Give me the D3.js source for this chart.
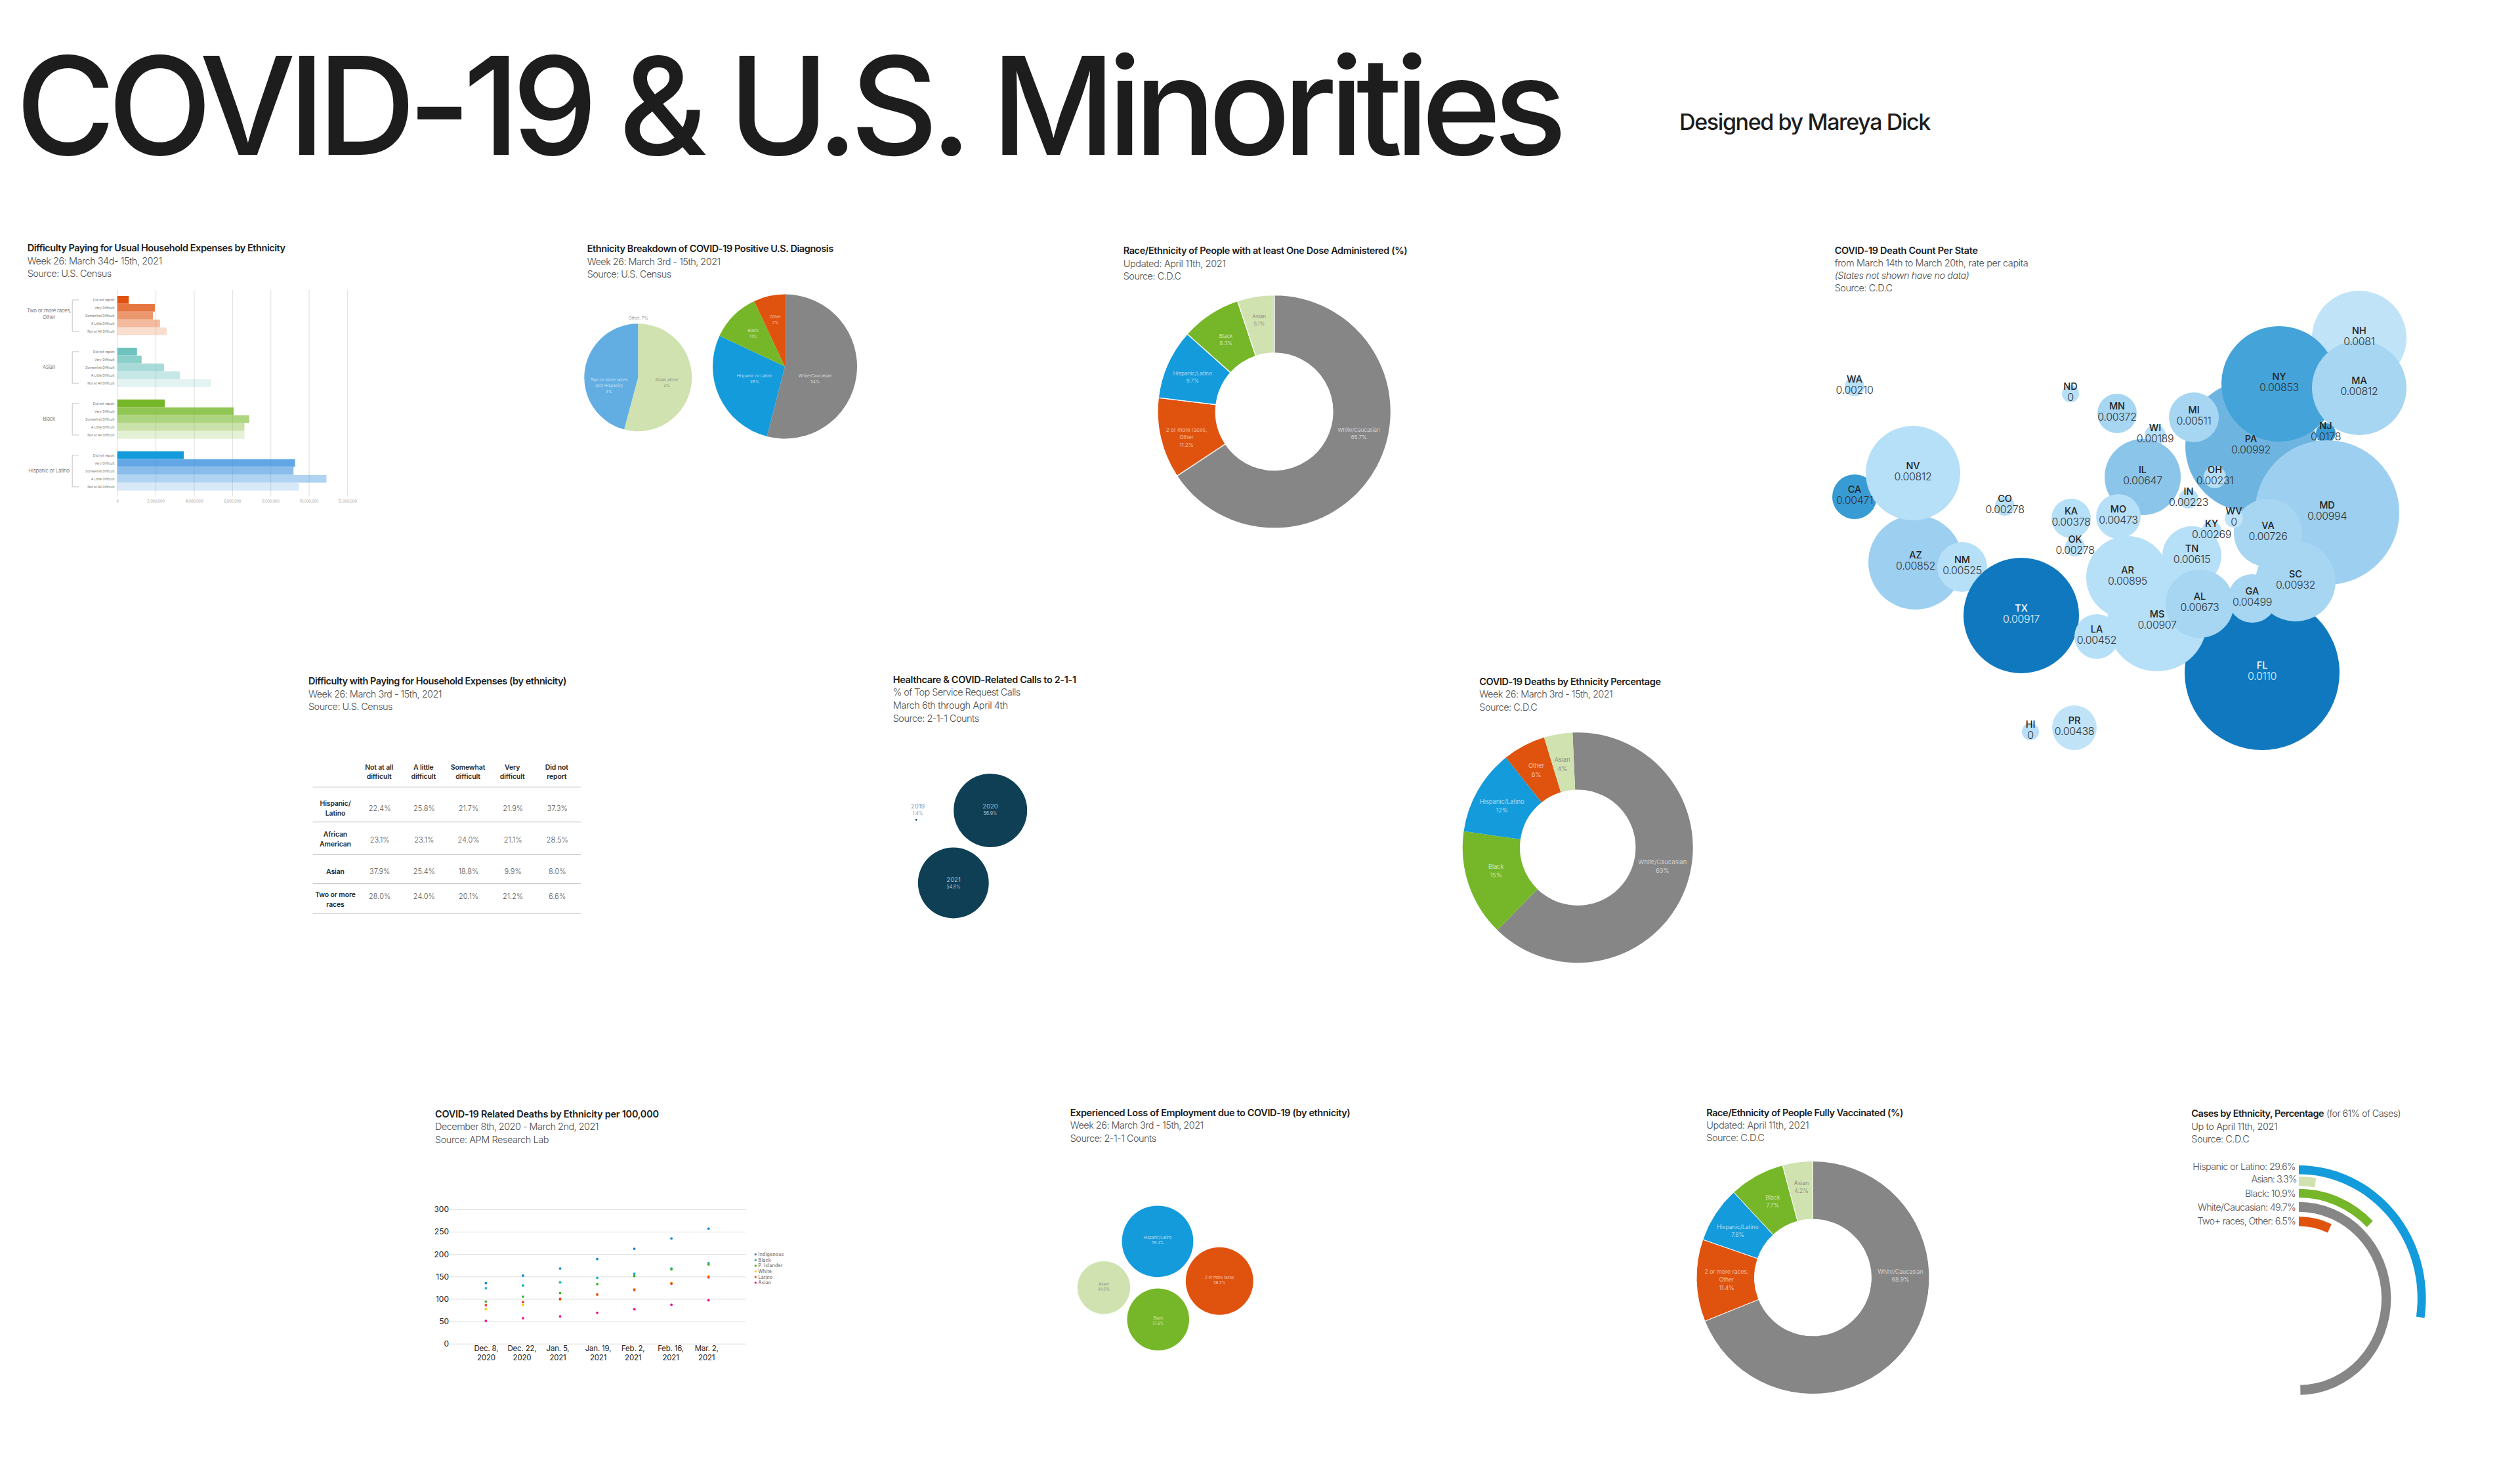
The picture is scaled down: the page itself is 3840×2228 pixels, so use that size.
<!DOCTYPE html>
<html>
<head>
<meta charset="utf-8">
<title>COVID-19 & U.S. Minorities</title>
<script src="https://cdn.jsdelivr.net/npm/d3@7"></script>
<style>
  html, body { margin: 0; padding: 0; background: #fff; }
  svg { display: block; }
  text { font-family: Inter, "Liberation Sans", sans-serif; }
</style>
</head>
<body>
<div id="wrapper"></div>
<script>
// ---- data ----

// household expenses, bars
const expenseGroups = ["Two or more races, Other", "Asian", "Black", "Hispanic or Latino"]
const expenseLevels = ["Did not report", "Very Difficult", "Somewhat Difficult", "A Little Difficult", "Not at All Difficult"]
const expenseTwoOrMore = [600000, 1960000, 1860000, 2230000, 2580000]
const expenseAsian = [1030000, 1270000, 2440000, 3270000, 4890000]
const expenseBlack = [2480000, 6070000, 6890000, 6640000, 6640000]
const expenseHispanic = [3470000, 9280000, 9200000, 10920000, 9490000]
const expenseTicks = [0, 2000000, 4000000, 6000000, 8000000, 10000000, 12000000]

// positive diagnosis pies
const diagnosisSmallLabels = [["Asian alone", "4%"], ["Two or more races", "(not Hispanic)", "3%"]]
const diagnosisSmallValues = [3.9, 3.3]
const diagnosisBigLabels = [["White/Caucasian", "54%"], ["Hispanic or Latino", "28%"], ["Black", "11%"], ["Other", "7%"]]
const diagnosisBigValues = [54, 28, 11, 7]

// donuts
const oneDoseLabels = [["White/Caucasian", "65.7%"], ["2 or more races,", "Other", "11.2%"], ["Hispanic/Latino", "9.7%"], ["Black", "8.3%"], ["Asian", "5.1%"]]
const oneDoseValues = [65.7, 11.2, 9.7, 8.3, 5.1]
const deathShareLabels = [["White/Caucasian", "63%"], ["Black", "15%"], ["Hispanic/Latino", "12%"], ["Other", "6%"], ["Asian", "4%"]]
const deathShareValues = [63, 15, 12, 6, 4]
const fullVaxLabels = [["White/Caucasian", "68.9%"], ["2 or more races,", "Other", "11.4%"], ["Hispanic/Latino", "7.8%"], ["Black", "7.7%"], ["Asian", "4.2%"]]
const fullVaxValues = [68.9, 11.4, 7.8, 7.7, 4.2]

// state bubbles, map units are a 1000 x 840 sheet. array order is draw order
const stateNames = ["NH","PA","NY","MA","MI","MN","WI","ND","WA","IL","IN","OH","NJ","MD","VA","WV","TN","KY","MO","KA","OK","CO","CA","AZ","NV","NM","TX","FL","AR","MS","LA","GA","AL","SC","HI","PR"]
const stateRates = ["0.0081","0.00992","0.00853","0.00812","0.00511","0.00372","0.00189","0","0.00210","0.00647","0.00223","0.00231","0.0178","0.00994","0.00726","0","0.00615","0.00269","0.00473","0.00378","0.00278","0.00278","0.00471","0.00852","0.00812","0.00525","0.00917","0.0110","0.00895","0.00907","0.00452","0.00499","0.00673","0.00932","0","0.00438"]
const stateX = [835,670,713,835,583,466,524,395,66,505,575,615,784,786,696,644,580,610,468,396,402,295,66,159,155,230,320,687,482,527,435,672,592,738,334,401]
const stateY = [175,340,245,251,296,290,323,260,249,387,420,387,320,441,472,450,507,469,447,450,493,431,417,517,381,524,598,685,540,607,630,572,580,546,775,769]
const stateSize = [72,100,88,72,38,30,16,13,15,58,15,17,15,110,52,14,45,15,34,30,15,15,34,72,72,38,88,118,63,76,34,37,52,61,13,34]
const stateShade = [0,5,6,2,2,2,1,1,1,4,1,1,7,3,2,0,1,1,1,1,1,1,7,3,1,1,8,8,1,1,1,2,2,2,1,0]

// expenses table
const tableColumns = [["Not at all", "difficult"], ["A little", "difficult"], ["Somewhat", "difficult"], ["Very", "difficult"], ["Did not", "report"]]
const tableRows = [["Hispanic/", "Latino"], ["African", "American"], ["Asian"], ["Two or more", "races"]]
const tableHispanic = ["22.4%", "25.8%", "21.7%", "21.9%", "37.3%"]
const tableAfrican = ["23.1%", "23.1%", "24.0%", "21.1%", "28.5%"]
const tableAsian = ["37.9%", "25.4%", "18.8%", "9.9%", "8.0%"]
const tableTwoOrMore = ["28.0%", "24.0%", "20.1%", "21.2%", "6.6%"]

// 2-1-1 calls
const callYears = ["2019", "2020", "2021"]
const callShares = [1.4, 56.9, 54.8]

// deaths per 100,000
const deathDates = ["Dec. 8,|2020", "Dec. 22,|2020", "Jan. 5,|2021", "Jan. 19,|2021", "Feb. 2,|2021", "Feb. 16,|2021", "Mar. 2,|2021"]
const deathSeriesNames = ["Indigenous", "Black", "P. Islander", "White", "Latino", "Asian"]
const deathIndigenous = [135, 152, 168, 189, 212, 235, 257]
const deathBlack = [124, 130, 137, 147, 156, 168, 180]
const deathIslander = [94, 105, 113, 133, 151, 166, 177]
const deathWhite = [77, 87, 98, 109, 122, 136, 151]
const deathLatino = [86, 93, 100, 110, 120, 134, 148]
const deathAsian = [51, 57, 61, 69, 77, 87, 97]
const deathTicks = [0, 50, 100, 150, 200, 250, 300]

// loss of employment
const jobGroups = ["Hispanic/Latino", "2 or more races", "Asian", "Black"]
const jobShares = [59.4, 56.2, 44.0, 51.6]

// cases by ethnicity, radial bars
const caseLabels = ["Hispanic or Latino:  29.6%", "Asian: 3.3%", "Black: 10.9%", "White/Caucasian: 49.7%", "Two+ races,  Other: 6.5%"]
const caseShares = [29.6, 3.3, 10.9, 49.7, 6.5]
const caseSweep = [98.4, 8.5, 45, 179, 24.7]

// ---- setup ----
const dms = { width: 3840, height: 2228 }

const grey = "#868686"
const orange = "#e0530f"
const blue = "#149bdb"
const green = "#76b729"
const pale = "#d0e2b0"
const teal = "#6ec3be"
const ink = "#1d1d1d"
const soft = "#4d4d4d"

const wrapper = d3.select("#wrapper")
  .append("svg")
  .attr("width", dms.width)
  .attr("height", dms.height)
  .attr("viewBox", `0 0 ${dms.width} ${dms.height}`)

// write a text, optionally squeeze it to a measured width
function put(parent, str, x, y, o = {}) {
  const t = parent.append("text")
    .attr("x", x)
    .attr("y", y)
    .attr("font-size", o.size || 8)
    .attr("font-weight", o.weight || 300)
    .attr("fill", o.fill || soft)
    .attr("text-anchor", o.anchor || "start")
    .text(str)
  if (o.italic) t.attr("font-style", "italic")
  if (o.width) {
    const len = t.node().getComputedTextLength()
    t.attr("letter-spacing", (o.width - len) / str.length)
  } else if (o.spacing) {
    t.attr("letter-spacing", o.spacing)
  }
  return t
}

// title + sub lines of a panel
function header(x, y, step, title, titleWidth, subs) {
  put(wrapper, title, x, y, { size: 14.5, weight: 600, fill: ink, width: titleWidth })
  subs.forEach((s, i) => {
    put(wrapper, s.text, x, y + step * (i + 1), { size: 14.5, weight: 300, fill: soft, width: s.width, italic: s.italic })
  })
}

function stacked(parent, lines, x, y, step, o) {
  lines.forEach((l, i) => put(parent, l, x, y + i * step, o))
}

// main heading
put(wrapper, "COVID-19 & U.S. Minorities", 24, 236, { size: 207, weight: 500, fill: ink, width: 2352 })
put(wrapper, "Designed by Mareya Dick", 2559, 198, { size: 34, weight: 500, fill: ink, width: 382 })

// ---- household expenses, bars ----
function drawExpenseBars() {
  header(41.7, 383, 19.5, "Difficulty Paying for Usual Household Expenses by Ethnicity", 393,
    [{ text: "Week 26: March 34d- 15th, 2021", width: 205 }, { text: "Source: U.S. Census", width: 128 }])

  const g = wrapper.append("g")
  const rows = [expenseTwoOrMore, expenseAsian, expenseBlack, expenseHispanic]
  const colors = [orange, teal, green, "#3b90de"]
  const xScale = d3.scaleLinear().domain([0, 12000000]).range([178.7, 529])
  const groupScale = d3.scaleBand().domain(expenseGroups).range([451, 747.9]).paddingInner(0.237)
  const levelScale = d3.scaleBand().domain(expenseLevels).range([0, groupScale.bandwidth()])
  const opacity = d3.scaleOrdinal().domain(expenseLevels).range([1, 0.8, 0.6, 0.4, 0.2])

  const axis = d3.axisBottom(xScale)
    .tickValues(expenseTicks)
    .tickFormat(d3.format(","))
    .tickSize(-315)
    .tickPadding(5)
  const xAxis = g.append("g")
    .attr("transform", "translate(0,756.7)")
    .call(axis)
  xAxis.select(".domain").remove()
  xAxis.selectAll("line").attr("stroke", "#e3e3e3").attr("stroke-width", 1.2)
  xAxis.selectAll("text").attr("font-size", 5.5).attr("font-weight", 300).attr("fill", "#777")

  expenseGroups.forEach((group, i) => {
    const top = groupScale(group)
    g.append("g").selectAll("rect")
      .data(expenseLevels)
      .join("rect")
      .attr("x", xScale(0))
      .attr("y", d => top + levelScale(d))
      .attr("width", (d, j) => xScale(rows[i][j]) - xScale(0))
      .attr("height", levelScale.bandwidth() - 0.3)
      .attr("fill", (d, j) => (i === 3 && j === 0) ? blue : colors[i])
      .attr("fill-opacity", d => opacity(d))

    expenseLevels.forEach(level => {
      put(g, level, 174.5, top + levelScale(level) + levelScale.bandwidth() / 2 + 1.8, { size: 5, weight: 400, fill: "#777", anchor: "end" })
    })

    const y0 = top + levelScale.bandwidth() / 2
    const y1 = top + levelScale(expenseLevels[4]) + levelScale.bandwidth() / 2
    g.append("path")
      .attr("d", `M120,${y0}H110.2V${y1}H120`)
      .attr("fill", "none")
      .attr("stroke", "#c4c4c4")
      .attr("stroke-width", 1)

    const mid = top + groupScale.bandwidth() / 2
    const lines = group.includes(",") ? ["Two or more races,", "Other"] : [group]
    stacked(g, lines, 74.6, mid + (lines.length > 1 ? -5 : 2), 10, { size: 8, weight: 300, fill: "#555", anchor: "middle", spacing: -0.25 })
  })
}

// ---- pies and donuts share one routine ----
function drawRing(cfg) {
  const g = wrapper.append("g").attr("transform", `translate(${cfg.cx},${cfg.cy})`)
  const pie = d3.pie().sort(null).value(d => d)
    .startAngle(cfg.start || 0)
    .endAngle((cfg.start || 0) + 2 * Math.PI)
  const arc = d3.arc().innerRadius(cfg.inner || 0).outerRadius(cfg.outer)

  g.selectAll("path")
    .data(pie(cfg.values))
    .join("path")
    .attr("d", arc)
    .attr("fill", (d, i) => cfg.colors[i])
    .attr("stroke", cfg.gap ? "#fff" : "none")
    .attr("stroke-width", cfg.gap || 0)

  cfg.labels.forEach((lines, i) => {
    const [x, y] = cfg.spots[i]
    const fill = cfg.colors[i] === pale ? "#7b7b7b" : "rgba(255,255,255,0.82)"
    stacked(wrapper, lines, x, y, cfg.step, { size: cfg.size, weight: 300, fill: fill, anchor: "middle" })
  })
}

function drawDiagnosisPies() {
  header(894.7, 384, 19.5, "Ethnicity Breakdown of COVID-19 Positive U.S. Diagnosis", 375,
    [{ text: "Week 26: March 3rd - 15th, 2021", width: 203 }, { text: "Source: U.S. Census", width: 128 }])
  drawRing({
    cx: 972.3, cy: 575.3, outer: 82,
    values: diagnosisSmallValues, labels: diagnosisSmallLabels,
    colors: [pale, "#62aee3"],
    spots: [[1016, 581], [928, 581]],
    step: 8.8, size: 6.5,
  })
  put(wrapper, "Other, 7%", 972.7, 486.5, { size: 6.5, anchor: "middle", fill: "#777" })
  drawRing({
    cx: 1196, cy: 558.5, outer: 110,
    values: diagnosisBigValues, labels: diagnosisBigLabels,
    colors: [grey, blue, green, orange],
    spots: [[1242, 575], [1150, 575], [1147.7, 505.7], [1181.7, 484.7]],
    step: 9, size: 6.5,
  })
}

function drawOneDose() {
  header(1711.7, 387, 19.5, "Race/Ethnicity of People with at least One Dose Administered (%)", 432.7,
    [{ text: "Updated: April 11th, 2021", width: 156 }, { text: "Source: C.D.C", width: 88 }])
  drawRing({
    cx: 1941.7, cy: 627.3, outer: 177.7, inner: 89.3, gap: 1.3,
    values: oneDoseValues, labels: oneDoseLabels,
    colors: [grey, orange, blue, green, pale],
    spots: [[2070.7, 657.7], [1808, 657.7], [1817.3, 571.7], [1868, 515], [1918.7, 485]],
    step: 11.4, size: 8.2,
  })
}

function drawDeathShare() {
  header(2254.3, 1044, 19.4, "COVID-19 Deaths by Ethnicity Percentage", 276.3,
    [{ text: "Week 26: March 3rd - 15th, 2021", width: 203 }, { text: "Source: C.D.C", width: 88 }])
  drawRing({
    cx: 2404.2, cy: 1291.7, outer: 175.5, inner: 88.2, start: -2.6 * Math.PI / 180,
    values: deathShareValues, labels: deathShareLabels,
    colors: [grey, green, blue, orange, pale],
    spots: [[2533.3, 1316.7], [2279.7, 1323.7], [2288.7, 1224.7], [2341, 1170], [2380.7, 1161.3]],
    step: 13.6, size: 9.4,
  })
}

function drawFullVax() {
  header(2600.3, 1700.7, 19.2, "Race/Ethnicity of People Fully Vaccinated (%)", 299.7,
    [{ text: "Updated: April 11th, 2021", width: 156 }, { text: "Source: C.D.C", width: 88 }])
  drawRing({
    cx: 2762.5, cy: 1947, outer: 177.5, inner: 89, gap: 1,
    values: fullVaxValues, labels: fullVaxLabels,
    colors: [grey, orange, blue, green, pale],
    spots: [[2896, 1941], [2631, 1941], [2648, 1873], [2701.3, 1827.7], [2745, 1806]],
    step: 12.3, size: 8.8,
  })
}

// ---- state bubbles ----
function drawStateBubbles() {
  header(2795.7, 386.6, 19.2, "COVID-19 Death Count Per State", 218,
    [{ text: "from March 14th to March 20th, rate per capita", width: 294.6 },
     { text: "(States not shown have no data)", width: 204.7, italic: true },
     { text: "Source: C.D.C", width: 88 }])

  const mapX = d3.scaleLinear().domain([0, 1000]).range([2760, 3760])
  const mapY = d3.scaleLinear().domain([0, 840]).range([340, 1180])
  const radius = d3.scaleLinear().domain([0, 120]).range([0, 120])
  const shade = d3.scaleOrdinal()
    .domain(d3.range(9))
    .range(["#c0e3f8", "#b6dff8", "#a6d6f2", "#9ccff0", "#8bc5e9", "#6db5e0", "#44a3d9", "#389bd3", "#1078bf"])

  const g = wrapper.append("g")
  g.selectAll("circle")
    .data(stateNames)
    .join("circle")
    .attr("cx", (d, i) => mapX(stateX[i]))
    .attr("cy", (d, i) => mapY(stateY[i]))
    .attr("r", (d, i) => radius(stateSize[i]))
    .attr("fill", (d, i) => shade(stateShade[i]))

  stateNames.forEach((name, i) => {
    const dark = stateShade[i] === 8
    const x = mapX(stateX[i])
    const y = mapY(stateY[i])
    put(g, name, x, y - 6, { size: 14.5, weight: 500, fill: dark ? "#fff" : "#222", anchor: "middle" })
    put(g, stateRates[i], x, y + 10.5, { size: 16, weight: 300, fill: dark ? "#e8f3fb" : "#333", anchor: "middle", spacing: -0.35 })
  })
}

// ---- table ----
function drawTable() {
  header(470, 1043.3, 19.4, "Difficulty with Paying for Household Expenses (by ethnicity)", 393,
    [{ text: "Week 26: March 3rd - 15th, 2021", width: 203 }, { text: "Source: U.S. Census", width: 128 }])

  const g = wrapper.append("g")
  const values = [tableHispanic, tableAfrican, tableAsian, tableTwoOrMore]
  const col = d3.scalePoint().domain(d3.range(5)).range([577.7, 848.3])
  const rowLabelY = [1228.3, 1275.3, 1331.7, 1367.3]
  const rowValueY = [1236.3, 1283.7, 1331.7, 1370]
  const rules = [1199.3, 1252.7, 1302.3, 1346.7, 1392]

  g.selectAll("line")
    .data(rules)
    .join("line")
    .attr("x1", 476.7)
    .attr("x2", 885)
    .attr("y1", d => d)
    .attr("y2", d => d)
    .attr("stroke", "#bdbdbd")
    .attr("stroke-width", 1)

  tableColumns.forEach((lines, i) => {
    stacked(g, lines, col(i), 1172.7, 14.6, { size: 10.5, weight: 600, fill: "#2a2a2a", anchor: "middle", spacing: -0.15 })
  })
  tableRows.forEach((lines, r) => {
    stacked(g, lines, 511, rowLabelY[r], 14.8, { size: 10.5, weight: 600, fill: "#2a2a2a", anchor: "middle", spacing: -0.15 })
    values[r].forEach((v, i) => {
      put(g, v, col(i) + 1, rowValueY[r], { size: 11, weight: 300, fill: "#555", anchor: "middle" })
    })
  })
}

// ---- 2-1-1 call bubbles ----
function drawCalls() {
  header(1360.7, 1040.7, 19.6, "Healthcare & COVID-Related Calls to 2-1-1", 279,
    [{ text: "% of Top Service Request Calls", width: 194 },
     { text: "March 6th through April 4th", width: 175 },
     { text: "Source: 2-1-1 Counts", width: 131 }])

  const g = wrapper.append("g")
  const radius = d3.scaleLinear().domain([0, 56.9]).range([0, 56])
  const spots = [[1396.3, 1249.3], [1509.2, 1235], [1452.8, 1345.5]]
  const textAt = [[1398.7, 1232.3], [1509, 1232.3], [1453, 1343.7]]

  g.selectAll("circle")
    .data(callShares)
    .join("circle")
    .attr("cx", (d, i) => spots[i][0])
    .attr("cy", (d, i) => spots[i][1])
    .attr("r", d => radius(d))
    .attr("fill", "#0f3f55")

  callYears.forEach((year, i) => {
    const fill = i === 0 ? "#777" : "#d5dde1"
    put(g, year, textAt[i][0], textAt[i][1], { size: 9.5, anchor: "middle", fill: fill })
    put(g, callShares[i] + "%", textAt[i][0], textAt[i][1] + 9.8, { size: 7, anchor: "middle", fill: fill })
  })
}

// ---- deaths per 100,000 ----
function drawDeathDots() {
  header(663, 1702.7, 19.5, "COVID-19 Related Deaths by Ethnicity per 100,000", 340.8,
    [{ text: "December 8th, 2020 - March 2nd, 2021", width: 249 }, { text: "Source: APM Research Lab", width: 173 }])

  const series = [deathIndigenous, deathBlack, deathIslander, deathWhite, deathLatino, deathAsian]
  const colors = ["#0e86d4", "#14b4be", "#3cb02a", "#ffc60b", "#f23c30", "#ee0f8c"]
  const g = wrapper.append("g")
  const xScale = d3.scalePoint().domain(deathDates).range([740.4, 1079.7])
  const yScale = d3.scaleLinear().domain([0, 300]).range([2047.7, 1843])

  const yAxis = g.append("g")
    .attr("transform", "translate(685.5,0)")
    .call(d3.axisLeft(yScale).tickValues(deathTicks).tickSize(-451).tickPadding(1.5))
  yAxis.select(".domain").remove()
  yAxis.selectAll("line").attr("stroke", "#dedede").attr("stroke-width", 1)
  yAxis.selectAll("text").attr("font-size", 12).attr("font-weight", 400).attr("fill", "#222")

  // two line tick labels, a few sit off their dots in the picture
  const shift = [0, -2, -4, 1, -2.4, -1.6, -3.5]
  const xAxis = g.append("g")
    .attr("transform", "translate(0,2047.7)")
    .call(d3.axisBottom(xScale).tickSize(0))
  xAxis.select(".domain").remove()
  xAxis.selectAll("text").each(function (d, i) {
    const t = d3.select(this)
      .text(null)
      .attr("y", 0)
      .attr("dy", null)
      .attr("font-size", 11.5)
      .attr("font-weight", 400)
      .attr("letter-spacing", -0.2)
      .attr("fill", "#222")
    d.split("|").forEach((line, k) => {
      t.append("tspan")
        .attr("x", shift[i])
        .attr("y", 11 + k * 14.6)
        .text(line)
    })
  })

  series.forEach((values, s) => {
    g.append("g").selectAll("circle")
      .data(values)
      .join("circle")
      .attr("cx", (d, i) => xScale(deathDates[i]))
      .attr("cy", d => yScale(d))
      .attr("r", 1.9)
      .attr("fill", colors[s])
  })

  const legend = d3.scalePoint().domain(deathSeriesNames).range([1911.7, 1954.7])
  deathSeriesNames.forEach((name, s) => {
    g.append("circle")
      .attr("cx", 1151.3)
      .attr("cy", legend(name))
      .attr("r", 1.6)
      .attr("fill", colors[s])
    put(g, name, 1155.6, legend(name) + 2.4, { size: 7, weight: 500, fill: "#777", spacing: 0.2 })
  })
}

// ---- loss of employment bubbles ----
function drawJobs() {
  header(1630.7, 1700.7, 19.4, "Experienced Loss of Employment due to COVID-19 (by ethnicity)", 426.7,
    [{ text: "Week 26: March 3rd - 15th, 2021", width: 203 }, { text: "Source: 2-1-1 Counts", width: 131 }])

  const g = wrapper.append("g")
  const radius = d3.scaleLinear().domain([0, 59.4]).range([0, 54.4])
  const spots = [[1764, 1891.8], [1858.3, 1952.3], [1682, 1962.2], [1764.8, 2010.8]]
  const colors = [blue, orange, pale, green]

  g.selectAll("circle")
    .data(jobShares)
    .join("circle")
    .attr("cx", (d, i) => spots[i][0])
    .attr("cy", (d, i) => spots[i][1])
    .attr("r", d => radius(d))
    .attr("fill", (d, i) => colors[i])

  jobGroups.forEach((name, i) => {
    const fill = colors[i] === pale ? "#7b7b7b" : "rgba(255,255,255,0.85)"
    const y = spots[i][1] - 3.6 + (i === 3 ? 3.5 : 0)
    stacked(g, [name, jobShares[i].toFixed(1) + "%"], spots[i][0], y, 8, { size: 6, weight: 300, fill: fill, anchor: "middle" })
  })
}

// ---- cases, radial bars ----
function drawCases() {
  put(wrapper, "Cases by Ethnicity, Percentage", 3339.3, 1702.3, { size: 14.5, weight: 600, fill: ink, width: 201.7 })
  put(wrapper, "(for 61% of Cases)", 3545, 1702.3, { size: 14.5, weight: 300, fill: soft, width: 113 })
  put(wrapper, "Up to April 11th, 2021", 3339.3, 1721.7, { size: 14.5, weight: 300, fill: soft, width: 131 })
  put(wrapper, "Source: C.D.C", 3339.3, 1741, { size: 14.5, weight: 300, fill: soft, width: 88 })

  const colors = [blue, pale, green, grey, orange]
  const outer = [202.7, 185.7, 167, 147, 124.7]
  const inner = [189.3, 171.3, 153.7, 132, 110.3]
  const angle = d3.scaleLinear().domain([0, 360]).range([0, 2 * Math.PI])

  // the rings are a little squeezed sideways in the picture
  const g = wrapper.append("g").attr("transform", "translate(3503,1978.8) scale(0.955,1)")
  g.selectAll("path")
    .data(caseSweep)
    .join("path")
    .attr("d", (d, i) => d3.arc()({ innerRadius: inner[i], outerRadius: outer[i], startAngle: 0, endAngle: angle(d) }))
    .attr("fill", (d, i) => colors[i])

  const baselines = [1783.3, 1802.3, 1823.7, 1845, 1866]
  const widths = [156, 69, 77, 149, 149]
  caseLabels.forEach((label, i) => {
    put(wrapper, label, 3498 + (i === 1 ? 1.5 : 0), baselines[i], { size: 14.5, weight: 300, fill: "#555", anchor: "end", width: widths[i] })
  })
}

drawExpenseBars()
drawDiagnosisPies()
drawOneDose()
drawStateBubbles()
drawTable()
drawCalls()
drawDeathShare()
drawDeathDots()
drawJobs()
drawFullVax()
drawCases()
</script>
</body>
</html>
